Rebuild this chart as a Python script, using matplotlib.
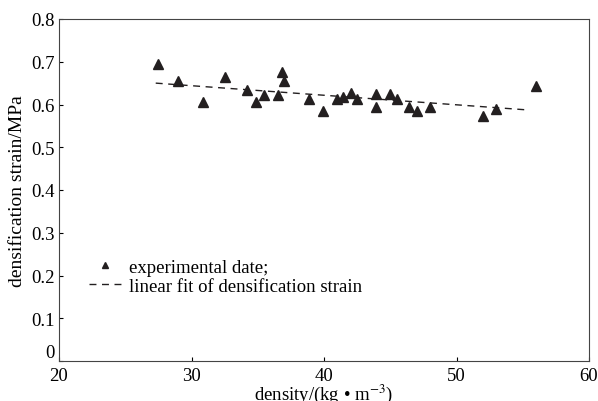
import numpy as np
import matplotlib
matplotlib.use("Agg")
import matplotlib.pyplot as plt

plt.rcParams['font.family'] = ['Liberation Serif', 'DejaVu Serif']
plt.rcParams['mathtext.fontset'] = 'stix'

# experimental points
density = [27.5, 29.0, 30.9, 32.5, 34.2, 34.9, 35.5, 36.5, 36.8, 37.0,
           38.9, 39.9, 41.0, 41.4, 42.0, 42.5, 43.9, 43.9, 45.0, 45.5,
           46.4, 47.0, 48.0, 52.0, 53.0, 56.0]
strain = [0.695, 0.655, 0.605, 0.664, 0.634, 0.605, 0.623, 0.623, 0.676, 0.655,
          0.614, 0.585, 0.614, 0.618, 0.627, 0.614, 0.625, 0.594, 0.625, 0.614,
          0.594, 0.585, 0.594, 0.573, 0.589, 0.643]

# linear fit end points
fit_x = [27.3, 55.5]
fit_y = [0.650, 0.587]

fig = plt.figure(figsize=(5.98, 4.02), dpi=100)
ax = fig.add_axes([59 / 598, 40 / 402, 530 / 598, 342 / 402])

ax.plot(density, strain, '^', color='#231f20', markersize=6.5,
        label='experimental date;')
ax.plot(fit_x, fit_y, '--', color='#231f20', linewidth=1.0, dashes=(5, 4),
        label='linear fit of densification strain')

ax.set_xlim(20, 60)
ax.set_ylim(0, 0.8)
ax.set_xticks([20, 30, 40, 50, 60])
ax.set_yticks([0, 0.1, 0.2, 0.3, 0.4, 0.5, 0.6, 0.7, 0.8])
ax.set_yticklabels(['0', '0.1', '0.2', '0.3', '0.4', '0.5', '0.6', '0.7', '0.8'])
ax.tick_params(direction='in', length=3, labelsize=13.5)
ax.tick_params(axis='x', pad=4.5)
ax.tick_params(axis='y', pad=3)
ax.get_yticklabels()[0].set_va('bottom')
for s in ax.spines.values():
    s.set_color('#444444')
ax.set_xlabel('density/(kg • m$^{-3}$)', fontsize=13.5, labelpad=-2)
ax.set_ylabel('densification strain/MPa', fontsize=14, labelpad=4)

ax.legend(loc='upper left', bbox_to_anchor=(0.024, 0.348), frameon=False,
          fontsize=13.5, handlelength=1.8, handletextpad=0.35, labelspacing=0.1,
          markerscale=0.75)

fig.savefig('out.png', dpi=100)
